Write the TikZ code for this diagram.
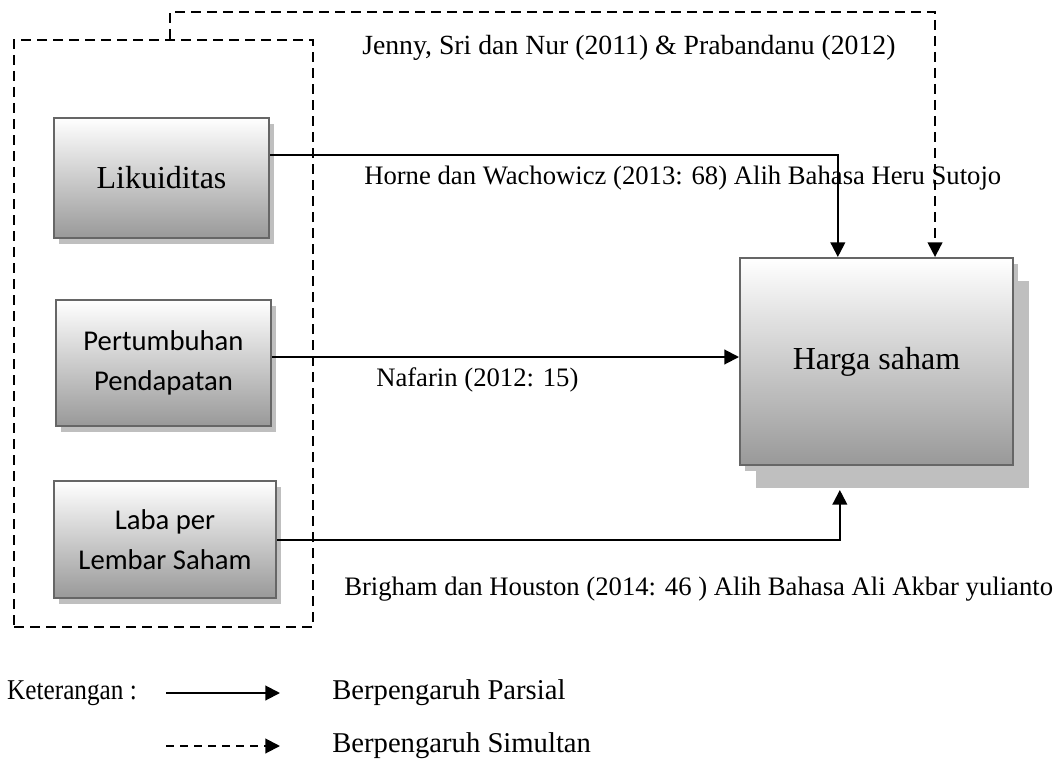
\documentclass[tikz,border=0pt]{standalone}
\usepackage{fontspec}
\setmainfont{Liberation Serif}
\newfontfamily\calibri{Carlito}
\usetikzlibrary{arrows.meta,shadows}
\tikzset{
  varbox/.style={draw=black!60,line width=1.5pt,inner sep=0pt,align=center,
    top color=white,bottom color=black!40,
    drop shadow={shadow xshift=4pt,shadow yshift=-4.5pt,fill=black!25,opacity=1}},
  partial/.style={line width=1.5pt,-{Triangle[length=11pt,width=11pt]}},
  simul/.style={line width=1.5pt,dash pattern=on 7.5pt off 4.5pt,-{Triangle[length=11pt,width=11pt]}},
  reflabel/.style={anchor=west,inner sep=0pt,font=\fontsize{20}{23}\selectfont},
  legtext/.style={anchor=west,inner sep=0pt,font=\fontsize{21.5}{25}\selectfont}
}
\begin{document}
\begin{tikzpicture}[x=0.75pt,y=-0.75pt]
  \useasboundingbox (0,0) rectangle (1059,763);
  % kelompok variabel X
  \node (grp) [draw,line width=1.5pt,dash pattern=on 7.5pt off 4.5pt,minimum width=224.25pt,minimum height=440.25pt] at (163.5,333.5) {};
  \node (lik) [varbox,minimum width=161.25pt,minimum height=90pt,font=\fontsize{24}{28}\selectfont] at (161.5,178) {Likuiditas};
  \node (pp) [varbox,minimum width=161.25pt,minimum height=94.5pt,font=\calibri\fontsize{21.5}{30}\selectfont] at (163.5,363) {Pertumbuhan\\Pendapatan};
  \node (lps) [varbox,minimum width=166.5pt,minimum height=87.75pt,font=\calibri\fontsize{21.5}{30}\selectfont] at (165,539.5) {Laba per\\Lembar Saham};
  \node (hs) [varbox,minimum width=204.75pt,minimum height=155.25pt,font=\fontsize{24}{28}\selectfont,
    drop shadow={shadow xshift=12pt,shadow yshift=-17.5pt,fill=black!25,opacity=1}] at (876.5,361.5) {Harga saham};
  % pengaruh
  \draw[partial] ([yshift=17.25pt]lik.east) -| ([xshift=-29pt]hs.north);
  \draw[partial] ([yshift=4.5pt]pp.east) -- ([yshift=4.5pt]pp.east -| hs.west);
  \draw[partial] (lps.east) -| ([xshift=-27.5pt,yshift=-18pt]hs.south);
  \draw[simul] ([xshift=4.9pt]grp.north) -- ++(0,-27) -| ([xshift=43.9pt]hs.north);
  \node (ref1) [reflabel,font=\fontsize{20.8}{24}\selectfont] at (362,48) {Jenny, Sri dan Nur (2011) \& Prabandanu (2012)};
  \node (ref2) [reflabel] at (364,178) {Horne dan Wachowicz (2013: 68) Alih Bahasa Heru Sutojo};
  \node (ref3) [reflabel] at (376,380) {Nafarin (2012: 15)};
  \node (ref4) [reflabel] at (344,589) {Brigham dan Houston (2014: 46 ) Alih Bahasa Ali Akbar yulianto};
  % keterangan
  \node (ket) [legtext,xscale=0.88,transform shape] at (7,693) {Keterangan :};
  \coordinate (pa) at (166,693);
  \coordinate (pb) at (280,693);
  \coordinate (sa) at (166,746);
  \coordinate (sb) at (280,746);
  \draw[partial] (pa) -- (pb);
  \draw[simul,dash pattern=on 6pt off 4.5pt] (sa) -- (sb);
  \node (parsial) [legtext] at (332,693) {Berpengaruh Parsial};
  \node (simultan) [legtext] at (332,746) {Berpengaruh Simultan};
\end{tikzpicture}
\end{document}
